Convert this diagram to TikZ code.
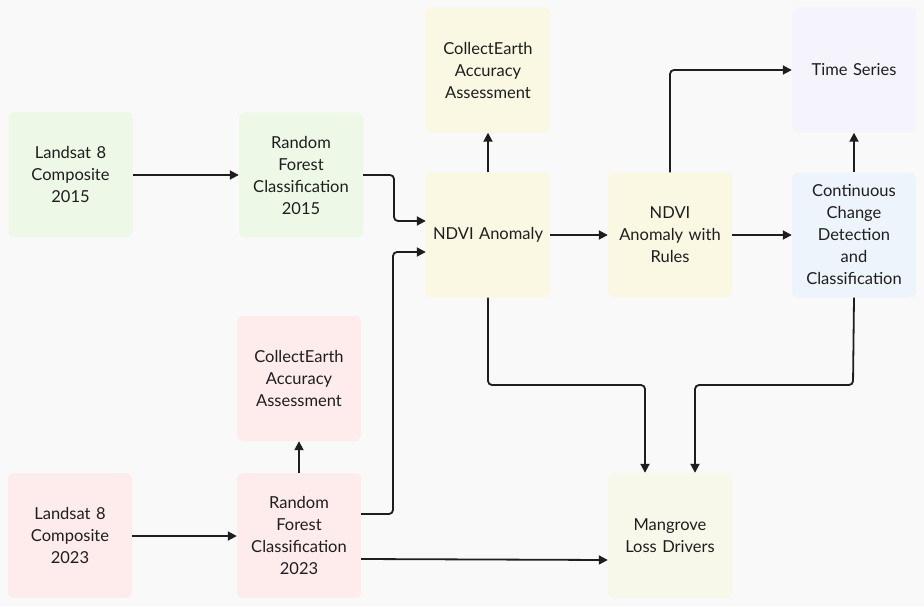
\documentclass[tikz,border=0pt]{standalone}
\usepackage{fontspec}
\setmainfont{Lato}
\usetikzlibrary{arrows.meta}
\definecolor{bg}{HTML}{F9F9F9}
\definecolor{cgreen}{HTML}{EDF8E7}
\definecolor{cpink}{HTML}{FDECEB}
\definecolor{cyellow}{HTML}{FAF7E3}
\definecolor{clav}{HTML}{F5F4FC}
\definecolor{cblue}{HTML}{EEF4FC}
\definecolor{cmang}{HTML}{F8F8EA}
\definecolor{ink}{HTML}{1E1E1E}
\tikzset{
  box/.style={rectangle, rounded corners=6pt, minimum width=124pt, minimum height=125pt,
    text width=122pt, align=center, inner sep=0pt, font=\fontsize{16.5}{22}\selectfont, text=ink},
  conn/.style={draw=ink, line width=1.8pt, rounded corners=4pt,
    -{Triangle[length=9pt,width=9pt]}}
}
\begin{document}
\begin{tikzpicture}[x=1pt,y=-1pt]
\fill[bg] (0,0) rectangle (924,606);
\useasboundingbox (0,0) rectangle (924,606);
% nodes (centers)
\node[box, fill=cgreen] (l15) at (70.5,174.5) {Landsat 8\\Composite\\2015};
\node[box, fill=cgreen] (rf15) at (301,175) {Random\\Forest\\Classification\\2015};
\node[box, fill=cyellow] (ce1) at (488,70) {CollectEarth\\Accuracy\\Assessment\\[22pt]};
\node[box, fill=cyellow] (ndvi) at (488,235) {NDVI Anomaly};
\node[box, fill=cyellow] (rules) at (670,235) {NDVI\\Anomaly with\\Rules};
\node[box, fill=clav] (ts) at (854,70) {Time Series};
\node[box, fill=cblue] (ccdc) at (854,235) {Continuous\\Change\\Detection\\and\\Classification};
\node[box, fill=cpink] (ce2) at (299,378.5) {CollectEarth\\Accuracy\\Assessment};
\node[box, fill=cpink] (l23) at (70,535.5) {Landsat 8\\Composite\\2023};
\node[box, fill=cpink] (rf23) at (299,535.5) {Random\\Forest\\Classification\\2023};
\node[box, fill=cmang] (mang) at (670,535.5) {Mangrove\\Loss Drivers};
% connectors
\coordinate (a1) at (363,175);
\draw[conn] (l15.east |- a1) -- (rf15.west |- a1);
\draw[conn] (rf15.east |- a1) -- (394,175) -- (394,221) -- (ndvi.west |- 0,221);
\draw[conn] (ndvi.north) -- (ce1.south);
\draw[conn] (ndvi.east) -- (rules.west);
\draw[conn] (rules.east) -- (ccdc.west);
\draw[conn] (rules.north) -- (670,70) -- (ts.west);
\draw[conn] (ccdc.north) -- (ts.south);
\draw[conn] (l23.east |- 0,536) -- (rf23.west |- 0,536);
\draw[conn] (rf23.north) -- (ce2.south);
\draw[conn] (rf23.east |- 0,514) -- (393,514) -- (393,252) -- (ndvi.west |- 0,252);
\draw[conn] (rf23.east |- 0,559) -- (mang.west |- 0,560);
\draw[conn] (ndvi.south) -- (488,385) -- (645,385) -- (mang.north -| 645,0);
\draw[conn] (ccdc.south) -- (853,385) -- (695,385) -- (mang.north -| 695,0);
\end{tikzpicture}
\end{document}
